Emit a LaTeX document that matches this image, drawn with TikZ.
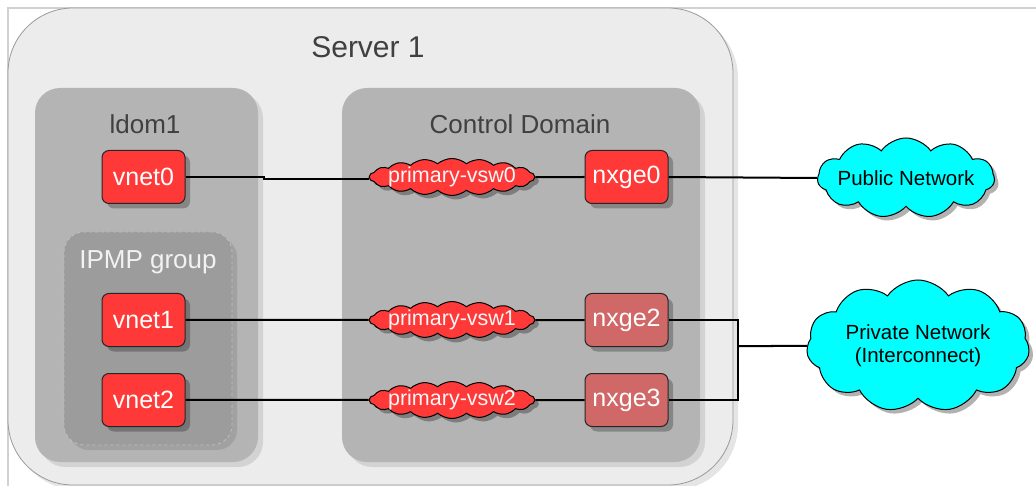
\documentclass[tikz,border=0pt]{standalone}
\usepackage{fontspec}
\setmainfont{Liberation Sans}
\usetikzlibrary{shapes.symbols,shadows}

\definecolor{srvgray}{HTML}{ECECEC}
\definecolor{domgray}{HTML}{B4B4B4}
\definecolor{grpgray}{HTML}{9C9C9C}
\definecolor{nicred}{HTML}{FF3838}
\definecolor{nicdim}{HTML}{D06868}
\definecolor{netcyan}{HTML}{00FFFF}

\begin{document}
\begin{tikzpicture}[x=1pt, y=-1pt, line width=2pt,
    nic/.style = {draw=black!85, line width=1pt, fill=nicred, rounded corners=7pt, minimum width=83pt, minimum height=53pt, inner sep=0pt, text=white, font=\fontsize{25}{28}\selectfont, drop shadow={shadow xshift=5pt, shadow yshift=-5pt, fill=black, opacity=0.25}},
    vsw/.style = {cloud, cloud puffs=18, cloud puff arc=80, cloud ignores aspect, draw, line width=1pt, fill=nicred, minimum width=165pt, minimum height=37pt, inner sep=0pt, drop shadow={shadow xshift=4pt, shadow yshift=-4pt, fill=black, opacity=0.3}},
    net/.style = {cloud, cloud puffs=11, cloud puff arc=110, cloud ignores aspect, draw, line width=1pt, fill=netcyan, inner sep=0pt, drop shadow={shadow xshift=4pt, shadow yshift=-4pt, fill=black, opacity=0.3}},
    box/.style = {rounded corners=25pt, inner sep=0pt, drop shadow={shadow xshift=5pt, shadow yshift=-5pt, fill=black, opacity=0.1}},
    title/.style = {text=black!75, font=\fontsize{26}{30}\selectfont},
    vswtext/.style = {text=black!3, font=\fontsize{21.5}{24}\selectfont},
    nettext/.style = {text=black, align=center, font=\fontsize{20.5}{23}\selectfont}]

    \useasboundingbox (0,0) rectangle (1036,486);
    \draw[black!18, line width=1.5pt] (8,486) -- (8,8) -- (1036,8);

    % containers
    \node[box, rounded corners=65pt, draw=black!40, line width=0.8pt, fill=srvgray, minimum width=725pt, minimum height=477pt] (srv) at (370.5,246.5) {};
    \node[title, font=\fontsize{30}{34}\selectfont] (srvname) at (368,47) {Server 1};

    \node[box, fill=domgray, minimum width=223pt, minimum height=374pt] (ldom) at (146.5,275) {};
    \node[title] (ldomname) at (145,124) {ldom1};
    \node[box, fill=domgray, minimum width=358pt, minimum height=374pt] (ctrl) at (521,275) {};
    \node[title] (ctrlname) at (520,124) {Control Domain};

    \node[box, rounded corners=20pt, fill=grpgray, draw=black!25, dashed, line width=0.8pt, minimum width=168pt, minimum height=213pt] (ipmp) at (148,338.5) {};
    \node[title, text=black!5] (ipmpname) at (148,262) {IPMP group};

    % interfaces
    \node[nic] (vnet0) at (143.5,177) {vnet0};
    \node[nic] (vnet1) [below of=vnet0, node distance=143pt] {vnet1};
    \node[nic] (vnet2) [below of=vnet1, node distance=80pt] {vnet2};

    \node[vsw, label={[vswtext]center:primary-vsw0}] (vsw0) [right of=vnet0, node distance=308.5pt] {};
    \node[vsw, label={[vswtext]center:primary-vsw1}] (vsw1) [right of=vnet1, node distance=308.5pt] {};
    \node[vsw, label={[vswtext]center:primary-vsw2}] (vsw2) [right of=vnet2, node distance=308.5pt] {};

    \node[nic] (nxge0) [right of=vsw0, node distance=174.5pt] {nxge0};
    \node[nic, fill=nicdim] (nxge2) [right of=vsw1, node distance=174.5pt] {nxge2};
    \node[nic, fill=nicdim] (nxge3) [right of=vsw2, node distance=174.5pt] {nxge3};

    % networks
    \node[net, minimum width=177pt, minimum height=80pt, label={[nettext]center:Public Network}] (pub) at (906,178) {};
    \node[net, minimum width=223pt, minimum height=132pt, label={[nettext]center:Private Network\\(Interconnect)}] (priv) at (918,346) {};

    \coordinate (join) at (738,346);

    \draw (vnet0.east) -- ++(78,0) |- ([yshift=-2pt]vsw0.west);
    \draw (vnet1) -- (vsw1);
    \draw (vnet2) -- (vsw2);
    \draw (vsw0) -- (nxge0);
    \draw (vsw1) -- (nxge2);
    \draw (vsw2) -- (nxge3);
    \draw (nxge0.east) -- (pub.west);
    \draw (nxge2.east) -| (join) |- (nxge3.east);
    \draw (join) -- (priv.west);
\end{tikzpicture}
\end{document}
